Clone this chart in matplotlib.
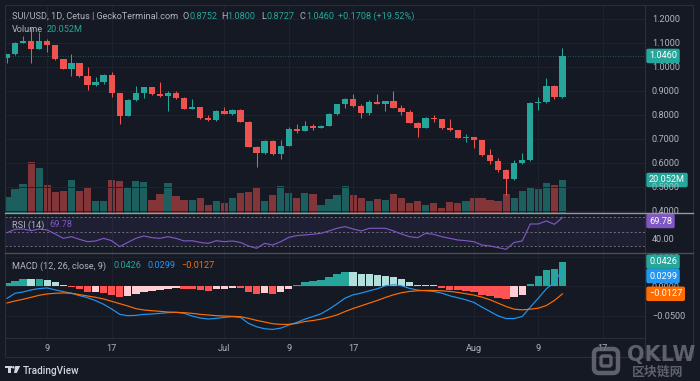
import numpy as np
import pandas as pd
import matplotlib
matplotlib.use("Agg")
import matplotlib.pyplot as plt
import matplotlib.dates as mdates
from matplotlib.patches import Rectangle, Circle, Polygon, FancyBboxPatch

plt.rcParams['font.family'] = ['Roboto', 'DejaVu Sans']

# ---------------- data ----------------
dates = pd.date_range("2024-06-04", periods=70, freq="D")

opens = [1.039, 1.053, 1.100, 1.110, 1.076, 1.110, 1.090, 1.032, 0.992, 1.015,
         0.9625, 0.925, 0.939, 0.967, 0.890, 0.797, 0.8625, 0.890, 0.915, 0.886,
         0.879, 0.893, 0.872, 0.826, 0.832, 0.786, 0.778, 0.817, 0.805, 0.821,
         0.772, 0.668, 0.640, 0.693, 0.636, 0.672, 0.742, 0.735, 0.755, 0.747,
         0.755, 0.804, 0.844, 0.867, 0.8375, 0.809, 0.853, 0.847, 0.858, 0.830,
         0.8125, 0.767, 0.747, 0.789, 0.782, 0.745, 0.736, 0.705, 0.707, 0.695,
         0.633, 0.608, 0.571, 0.533, 0.599, 0.6125, 0.851, 0.854, 0.921, 0.8752]
closes = [1.053, 1.100, 1.110, 1.076, 1.110, 1.090, 1.032, 0.992, 1.015, 0.9625,
          0.925, 0.939, 0.967, 0.890, 0.797, 0.8625, 0.890, 0.915, 0.886, 0.879,
          0.893, 0.872, 0.826, 0.832, 0.786, 0.778, 0.817, 0.805, 0.821, 0.772,
          0.668, 0.640, 0.693, 0.636, 0.672, 0.742, 0.735, 0.755, 0.747, 0.755,
          0.804, 0.844, 0.867, 0.8375, 0.809, 0.853, 0.847, 0.858, 0.830, 0.8125,
          0.767, 0.747, 0.789, 0.782, 0.745, 0.736, 0.705, 0.707, 0.695, 0.633,
          0.608, 0.571, 0.533, 0.599, 0.6125, 0.851, 0.854, 0.921, 0.8752, 1.046]
highs = [1.055, 1.103, 1.129, 1.161, 1.147, 1.115, 1.092, 1.032, 1.053, 1.017,
         1.001, 0.957, 0.970, 0.980, 0.892, 0.865, 0.921, 0.918, 0.918, 0.939,
         0.900, 0.900, 0.876, 0.867, 0.834, 0.800, 0.820, 0.832, 0.826, 0.824,
         0.775, 0.670, 0.695, 0.695, 0.697, 0.748, 0.761, 0.775, 0.762, 0.757,
         0.810, 0.846, 0.871, 0.8875, 0.845, 0.862, 0.8875, 0.860, 0.900, 0.840,
         0.820, 0.769, 0.791, 0.800, 0.784, 0.782, 0.738, 0.722, 0.709, 0.697,
         0.658, 0.620, 0.573, 0.6125, 0.643, 0.853, 0.873, 0.953, 0.925, 1.080]
lows = [1.015, 1.050, 1.099, 1.018, 1.074, 1.064, 1.030, 0.990, 0.964, 0.958,
        0.904, 0.922, 0.929, 0.874, 0.761, 0.795, 0.860, 0.870, 0.884, 0.877,
        0.817, 0.865, 0.823, 0.824, 0.784, 0.776, 0.776, 0.803, 0.800, 0.770,
        0.665, 0.582, 0.638, 0.634, 0.615, 0.670, 0.727, 0.733, 0.737, 0.745,
        0.753, 0.802, 0.831, 0.835, 0.786, 0.800, 0.845, 0.817, 0.828, 0.800,
        0.765, 0.710, 0.745, 0.770, 0.743, 0.734, 0.703, 0.688, 0.661, 0.631,
        0.596, 0.563, 0.467, 0.531, 0.597, 0.610, 0.819, 0.852, 0.865, 0.8727]
volume_m = [9.9, 14.6, 17.4, 31.2, 27.5, 16.8, 12.6, 13.4, 20.0, 13.6,
            15.0, 7.1, 7.1, 20.0, 19.4, 15.0, 19.4, 19.0, 7.6, 11.7,
            18.2, 10.5, 7.7, 7.7, 9.3, 4.7, 7.3, 5.9, 9.3, 12.3,
            12.8, 15.2, 7.3, 11.1, 16.4, 12.2, 9.4, 12.0, 11.7, 5.0,
            8.3, 11.1, 16.4, 10.9, 8.9, 7.3, 8.3, 7.7, 11.5, 8.9,
            6.3, 7.1, 4.7, 6.3, 3.0, 6.7, 5.9, 7.1, 9.3, 9.3,
            7.9, 7.3, 11.7, 8.9, 13.6, 15.2, 14.6, 18.0, 17.0, 20.052]
rsi = [48.6, 53.3, 53.7, 51.4, 53.7, 52.3, 46.7, 40.7, 43.0, 39.3,
       36.0, 37.0, 40.7, 37.4, 29.0, 35.0, 40.7, 44.0, 41.6, 40.7,
       43.0, 40.7, 37.0, 37.4, 35.0, 33.7, 37.4, 36.0, 37.0, 35.0,
       30.0, 26.8, 33.7, 31.4, 36.0, 42.0, 44.5, 45.4, 46.3, 47.7,
       51.0, 54.7, 57.0, 53.7, 51.0, 54.7, 54.7, 54.7, 51.0, 46.7,
       43.0, 41.6, 47.7, 46.3, 43.0, 40.7, 38.4, 37.4, 36.0, 31.4,
       30.0, 27.7, 25.4, 35.0, 37.0, 60.7, 60.7, 64.9, 60.2, 69.78]
macd = [-0.0205, -0.0118, -0.0095, -0.0060, -0.0037, -0.0026, -0.0060, -0.0089, -0.0118, -0.0158,
        -0.0193, -0.0244, -0.0307, -0.0388, -0.0480, -0.0503, -0.0497, -0.0480, -0.0474, -0.0463,
        -0.0451, -0.0445, -0.0463, -0.0509, -0.0543, -0.0560, -0.0549, -0.0532, -0.0520, -0.0532,
        -0.0635, -0.0693, -0.0727, -0.0739, -0.0716, -0.0664, -0.0618, -0.0563, -0.0517, -0.0471,
        -0.0391, -0.0299, -0.0201, -0.0144, -0.0115, -0.0075, -0.0040, 0.0011, 0.0029, 0.0011,
        -0.0034, -0.0063, -0.0075, -0.0086, -0.0115, -0.0161, -0.0195, -0.0230, -0.0276, -0.0356,
        -0.0431, -0.0506, -0.0552, -0.0552, -0.0517, -0.0356, -0.0201, -0.0040, 0.0069, 0.0299]
signal = [-0.0284, -0.0250, -0.0221, -0.0187, -0.0152, -0.0129, -0.0118, -0.0112, -0.0118, -0.0141,
          -0.0164, -0.0187, -0.0216, -0.0256, -0.0296, -0.0336, -0.0382, -0.0405, -0.0417, -0.0428,
          -0.0440, -0.0445, -0.0451, -0.0463, -0.0480, -0.0491, -0.0503, -0.0509, -0.0514, -0.0520,
          -0.0549, -0.0583, -0.0612, -0.0641, -0.0652, -0.0652, -0.0635, -0.0603, -0.0586, -0.0563,
          -0.0529, -0.0489, -0.0431, -0.0379, -0.0333, -0.0287, -0.0241, -0.0190, -0.0144, -0.0109,
          -0.0086, -0.0075, -0.0069, -0.0069, -0.0075, -0.0086, -0.0103, -0.0126, -0.0149, -0.0184,
          -0.0230, -0.0287, -0.0345, -0.0391, -0.0402, -0.0391, -0.0374, -0.0328, -0.0241, -0.0127]
hist = [0.0066, 0.0100, 0.0129, 0.0127, 0.0131, 0.0118, 0.0072, 0.0026, -0.0014, -0.0043,
        -0.0095, -0.0090, -0.0110, -0.0145, -0.0187, -0.0167, -0.0135, -0.0100, -0.0080, -0.0060,
        -0.0045, -0.0030, -0.0040, -0.0045, -0.0070, -0.0075, -0.0050, -0.0040, -0.0020, -0.0028,
        -0.0090, -0.0130, -0.0110, -0.0130, -0.0095, -0.0040, 0.0030, 0.0069, 0.0098, 0.0115,
        0.0155, 0.0210, 0.0250, 0.0240, 0.0220, 0.0215, 0.0195, 0.0172, 0.0155, 0.0126,
        0.0069, 0.0030, 0.0023, 0.0017, -0.0030, -0.0057, -0.0069, -0.0075, -0.0103, -0.0144,
        -0.0160, -0.0200, -0.0218, -0.0184, -0.0144, 0.0046, 0.0172, 0.0276, 0.0305, 0.0426]

price_ticks = [1.2, 1.1, 1.0, 0.9, 0.8, 0.7, 0.6, 0.5, 0.4]
rsi_ticks = [40]
macd_ticks = [0.05, 0.0, -0.05]
tick_dates = ["2024-06-09", "2024-06-17", "2024-07-01", "2024-07-09",
              "2024-07-17", "2024-08-01", "2024-08-09", "2024-08-17"]
tick_labels = ["9", "17", "Jul", "9", "17", "Aug", "9", "17"]

# ---------------- style ----------------
BG = '#151924'
UP, DN = '#26a69a', '#ef5350'
TXT = '#b2b5be'
GRID = '#1f2330'
BORDER = '#2a2e39'
PURPLE = '#7e57c2'
BLUE = '#2196f3'
ORANGE = '#ff6d00'
FS = 6.6

W, H = 700, 381


def rect(x0, y0, x1, y1):
    return [x0 / W, 1 - y1 / H, (x1 - x0) / W, (y1 - y0) / H]


o = np.array(opens); c = np.array(closes)
hi = np.array(highs); lo = np.array(lows)
vol = np.array(volume_m)
x = mdates.date2num(dates)
xl = (x[0] - 0.25, x[0] + 79.25)
tick_x = mdates.date2num(pd.to_datetime(tick_dates))
up = c >= o
cols = np.where(up, UP, DN)

fig = plt.figure(figsize=(7, 3.81), dpi=100, facecolor=BG)
ax_v = fig.add_axes(rect(5, 5, 645, 213), facecolor=BG)
ax_p = fig.add_axes(rect(5, 5, 645, 213), facecolor='none')
ax_r = fig.add_axes(rect(5, 213, 645, 253), facecolor=BG)
ax_m = fig.add_axes(rect(5, 253, 645, 338), facecolor=BG)

for ax in (ax_v, ax_p, ax_r, ax_m):
    for s in ax.spines.values():
        s.set_visible(False)
    ax.set_xlim(*xl)
    ax.set_xticks(tick_x)
    ax.tick_params(axis='x', length=0, labelbottom=False)
    ax.grid(axis='x', color=GRID, lw=0.7)
    ax.set_axisbelow(True)

# volume
ax_v.bar(x, vol, width=0.9, color=np.where(up, UP, DN), alpha=0.5, lw=0)
ax_v.set_ylim(0, vol[-1] * 208 / 33)
ax_v.set_yticks([])

# candles
ax_p.vlines(x, lo, hi, colors=cols, lw=0.75, zorder=3)
ax_p.bar(x, np.maximum(np.abs(c - o), 0.004), bottom=np.minimum(o, c),
         width=0.78, color=cols, lw=0, zorder=4)
ax_p.set_ylim(1.2 - (213 - 19) / 240, 1.2 + (19 - 5) / 240)
ax_p.axhline(c[-1], color=UP, lw=0.6, ls=(0, (1, 2)), alpha=0.6, zorder=2)
ax_p.yaxis.tick_right()
ax_p.set_yticks(price_ticks)
ax_p.set_yticklabels([f"{v:.4f}" for v in price_ticks])
ax_p.tick_params(axis='y', length=0, pad=5, labelsize=FS, labelcolor=TXT)
ax_p.grid(axis='y', color=GRID, lw=0.7)


def tag(ax, yval, text, fc, dy=0):
    ax.annotate(text, xy=(1, yval), xycoords=('axes fraction', 'data'),
                xytext=(4, dy), textcoords='offset pixels', ha='left', va='center',
                fontsize=FS, color='white', annotation_clip=False, zorder=20,
                bbox=dict(boxstyle='round,pad=0.3,rounding_size=0.2', fc=fc, ec='none'))


tag(ax_p, c[-1], f"{c[-1]:.4f}", UP)
tag(ax_v, vol[-1], f"{vol[-1]:.3f}M", UP)

# RSI
ax_r.set_ylim(30 - (253 - 246) / 0.7175, 70 + (217.3 - 213) / 0.7175)
ax_r.axhspan(30, 70, color=PURPLE, alpha=0.1, lw=0)
for lvl in (70, 50, 30):
    ax_r.axhline(lvl, color='#787b86', lw=0.6, ls=(0, (2.5, 2.5)))
ax_r.plot(x, rsi, color=PURPLE, lw=0.85)
ax_r.yaxis.tick_right()
ax_r.set_yticks(rsi_ticks)
ax_r.set_yticklabels([f"{v:.2f}" for v in rsi_ticks])
ax_r.tick_params(axis='y', length=0, pad=5, labelsize=FS, labelcolor=TXT)
ax_r.annotate(f"{rsi[-1]:.2f}", xy=(1, 0.8), xycoords='axes fraction',
              xytext=(4, 0), textcoords='offset pixels', ha='left', va='center',
              fontsize=FS, color='white', annotation_clip=False, zorder=20,
              bbox=dict(boxstyle='round,pad=0.3,rounding_size=0.2', fc=PURPLE, ec='none'))

# MACD
hv = np.array(hist)
prev = np.concatenate([[0.0], hv[:-1]])
hcols = np.where(hv >= 0, np.where(hv >= prev, '#26a69a', '#b2dfdb'),
                 np.where(hv <= prev, '#ff5252', '#ffcdd2'))
ax_m.bar(x, hv, width=0.92, color=hcols, lw=0, zorder=2)
ax_m.plot(x, macd, color=BLUE, lw=0.85, zorder=3)
ax_m.plot(x, signal, color=ORANGE, lw=0.85, zorder=3)
ax_m.set_ylim(-(338 - 286.6) / 580, (286.6 - 253.3) / 580)
ax_m.yaxis.tick_right()
ax_m.set_yticks(macd_ticks)
ax_m.set_yticklabels([f"{v:.4f}".replace('-', '\u2212') for v in macd_ticks])
ax_m.tick_params(axis='y', length=0, pad=5, labelsize=FS, labelcolor=TXT)
ax_m.grid(axis='y', color=GRID, lw=0.7)
ax_m.tick_params(axis='x', labelbottom=True, labelsize=FS, labelcolor=TXT, pad=4)
ax_m.set_xticklabels(tick_labels)
tag(ax_m, hv[-1], f"{hv[-1]:.4f}", '#26a69a')
tag(ax_m, macd[-1], f"{macd[-1]:.4f}", BLUE, dy=-7)
tag(ax_m, signal[-1], f"{signal[-1]:.4f}".replace('-', '\u2212'), ORANGE)

# ---------------- texts ----------------
def ftxt(xp, yp, s, color=TXT, size=FS, **kw):
    fig.text(xp / W, 1 - yp / H, s, color=color, fontsize=size, va='center', ha='left', **kw)


ftxt(12, 16.5, "SUI/USD, 1D, Cetus | GeckoTerminal.com")
ftxt(182.5, 16.5, "O"); ftxt(189, 16.5, f"{o[-1]:.4f}", UP)
ftxt(221.5, 16.5, "H"); ftxt(227.5, 16.5, f"{hi[-1]:.4f}", UP)
ftxt(261.5, 16.5, "L"); ftxt(266.5, 16.5, f"{lo[-1]:.4f}", UP)
ftxt(300, 16.5, "C"); ftxt(306, 16.5, f"{c[-1]:.4f}", UP)
chg = c[-1] - o[-1]
ftxt(338, 16.5, f"+{chg:.4f} (+{chg / (c[-1] - chg) * 100:.2f}%)", UP)
ftxt(12, 29, "Volume"); ftxt(47, 29, f"{vol[-1]:.3f}M", UP)
ftxt(12, 225, "RSI (14)"); ftxt(49, 225, f"{rsi[-1]:.2f}", PURPLE)
ftxt(12, 266, "MACD (12, 26, close, 9)")
ftxt(113, 266, f"{hv[-1]:.4f}", UP)
ftxt(147, 266, f"{macd[-1]:.4f}", BLUE)
ftxt(181, 266, f"{signal[-1]:.4f}".replace('-', '\u2212'), ORANGE)

# ---------------- overlay: frame, separators, logos ----------------
ov = fig.add_axes([0, 0, 1, 1], facecolor='none')
ov.set_xlim(0, W); ov.set_ylim(H, 0); ov.axis('off')
ov.add_patch(Rectangle((5, 5), 688, 352, fill=False, ec=BORDER, lw=0.8))
ov.plot([645, 645], [5, 357], color=BORDER, lw=0.8)
ov.plot([5, 645], [338, 338], color=BORDER, lw=0.8)
ov.plot([5, 693], [213.3, 213.3], color='#9598a1', lw=1.0)
ov.plot([5, 693], [253.3, 253.3], color='#4a4e59', lw=1.0)

# TradingView logo
LG = '#d1d4dc'
ov.add_patch(Rectangle((5, 366), 6.5, 2.3, color=LG, lw=0))
ov.add_patch(Rectangle((8.3, 366), 2.4, 7, color=LG, lw=0))
ov.add_patch(Circle((13.3, 367.3), 1.25, color=LG, lw=0))
ov.add_patch(Polygon([(15.2, 366), (20.2, 366), (16.8, 373), (14.0, 373)], color=LG, lw=0))
ov.text(23, 370.5, "TradingView", color=LG, fontsize=7.2, va='center', ha='left',
        fontweight='medium')

# watermark
WM = '#6b6e76'
ov.add_patch(FancyBboxPatch((594, 349), 24, 24, boxstyle='round,pad=0,rounding_size=5',
                            fill=False, ec=WM, lw=3.2, alpha=0.85))
ov.add_patch(FancyBboxPatch((601, 356), 10, 10, boxstyle='round,pad=0,rounding_size=2',
                            fill=False, ec=WM, lw=2.4, alpha=0.85))
ov.text(627, 355.5, "QKLW", color=WM, alpha=0.85, fontsize=15, fontweight='bold',
        family=['DejaVu Sans'], va='center', ha='left')
ov.text(632, 371.5, "区块链网", color=WM, alpha=0.85, fontsize=9.3, fontweight='bold',
        family=['Noto Sans CJK SC', 'DejaVu Sans'], va='center', ha='left')

fig.savefig("out.png", dpi=100, facecolor=BG)
